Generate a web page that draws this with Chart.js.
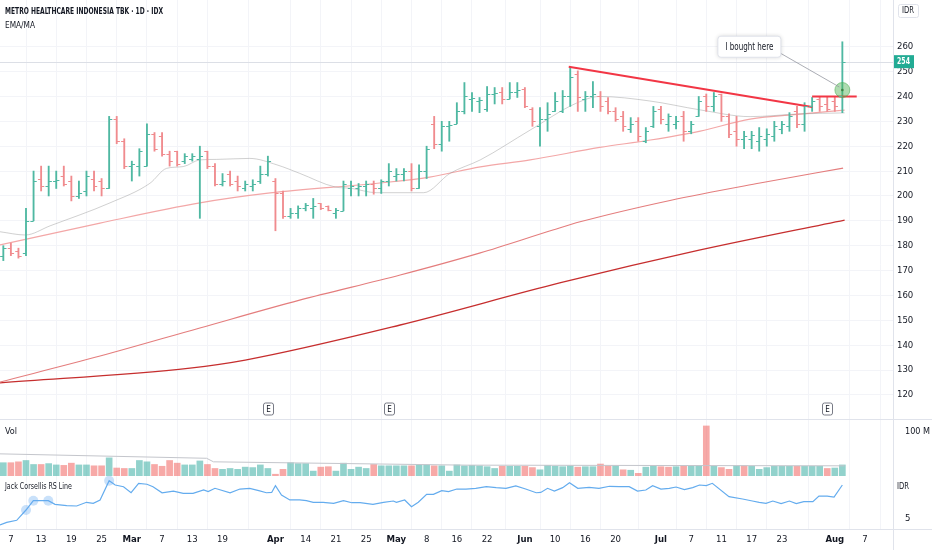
<!DOCTYPE html>
<html>
<head>
<meta charset="utf-8">
<script src="https://cdn.jsdelivr.net/npm/chart.js@4.4.1/dist/chart.umd.min.js"></script>
<style>
  html, body { margin: 0; padding: 0; background: #fff; }
  #wrap { width: 932px; height: 550px; }
</style>
</head>
<body>
<div id="wrap"><canvas id="chart" width="932" height="550"></canvas></div>
<script>
// 标题
const titleText = 'METRO HEALTHCARE INDONESIA TBK · 1D · IDX';
const subTitle = 'EMA/MA';
const rsName = 'Jack Corsellis RS Line';

// 日线 OHLC (每根K线一个值)
const openP  = [176,179,178,177,190,207,204,206,208,206,200,202,207,206,203,231,222,212,212,212,
                225,224,217,218,214,215,215,218,212,205,209,206,203,204,206,209,206,201,192,193,
                195,195,197,196,193,194,203,203,204,205,203,206,208,209,210,203,210,229,221,228,
                229,234,239,238,235,241,242,239,242,243,235,228,231,234,234,240,249,239,240,240,
                238,234,232,227,230,222,228,235,229,229,232,226,232,240,236,241,232,226,223,223,
                222,223,224,227,228,234,229,236,239,237,238,240];
const highP  = [180,181,179,195,210,212,212,210,212,208,206,210,210,207,232,232,223,214,219,229,
                225.5,225.5,218,218,217,217,220,218,213,209,210,208,206,206.5,212,216,207,202,195,196,
                197,199,197,196,195,206,206,205,206,206,206.5,213,211,211,213,212.5,220,232,230,230,
                237.5,245.6,241.6,239.6,244,243.6,243.6,245.6,245.6,243.6,235.5,235.5,237.5,241.6,242.4,252,250.3,242,246,242,
                239.6,235.5,234,231.5,231.5,227.5,236,236,233,232,234,230,240,241,241.6,241,233,232,226,226,
                227.5,227,230,230,233.5,236,237.5,239.6,240,240,240,262];
const lowP   = [174,176,175,176,190,202,200,203,204,198,199,200,202,200,203,221,211,206,208,212,
                218,216,212,212,213,214,191,211,204,204,204,202,202,202,205,208,186,191,191,191,
                194,191,194.5,194,191,194,200,200,200,200.7,201,204,206,206,202,203,207,219,218,222,
                229,233,234,233.5,234,237,237,239,239.6,235.5,228,220,226,234,233.5,236,234,234,235.5,234,
                233,230,226,225.5,222,221.4,227.5,229,226,227,222,225,232,234,234,230,223.4,220,219,219,
                218,220,222,225,226,227.5,226,234,234,234,234,233.5];
const closeP = [179,177,176,190,206,204,206,206.5,205,200,201,208,204,203,231,222,212,213,218,225,
                219,217,214,213,216,216,216,212,205,206,205,204,205,205,209,214,201,192,193,195,
                196.5,196,195,194.5,194.5,205,204,204,205,203,206,210,209,210,203,210,219,221,228,228.5,
                234,240,239.5,238.5,241,241.5,239,242,242.5,236,230,231,233,238,240,248,239.6,240,241,236,
                234,231,228,229,224,226,234,231,232,230,226,229,238,236,240,232,225,223,224,224.5,
                224,225,228,229,232,229,236,238,236,235,236,254];

// 成交量 (百万股) 与涨跌色 (1 = 绿, 0 = 红)
const volume = [30,30,32,35,26,26,28,25,24,29,25,25,23,23,41,18,17,17,35,32,
                26,22,35,29,25,25,34,26,17,15,17,15,20,19,25,17,4,15,30,28,
                28,11,20,21,11,29,15,20,17,26,23,23,23,23,23,25,25,23,23,11,
                25,23,24,23,21,17,22,22,22,22,19,14,24,22,21,23,20,21,21,27,
                23,23,14,13,6,20,23,21,20,21,23,23,23,113,22,19,15,23,23,22,
                15,19,22,22,22,22,22,22,22,17,18,25];
const volUp  = [1,0,0,1,1,0,1,1,0,0,1,1,0,0,1,0,0,1,1,1,
                0,0,0,0,1,1,1,0,0,1,1,1,1,1,1,1,0,0,1,1,
                1,1,0,0,1,1,1,1,1,0,1,1,1,1,0,1,1,0,1,1,
                1,1,1,1,1,1,0,1,1,0,0,1,1,1,1,1,0,1,1,0,
                0,1,0,1,0,1,1,0,0,1,0,1,1,0,1,0,0,1,0,1,
                1,1,1,1,1,0,1,1,1,0,1,1];
const volMaX = [-0.44, 26.9, 27.8, 61.2, 93, 111.3];
const volMaY = [50, 40, 32, 24.5, 23.5, 23];

// 均线 (K线序号, 价格)
const emaX  = [-0.44,2.9,6.2,14.1,19.4,21.6,23.8,26.0,28.2,32.6,36.2,39.2,43.9,45.9,49.4,55.6,59.1,63.1,69.7,75.8,78.9,85.5,92.2,98.8,105.4,111.3];
const emaY  = [185.6,184.3,188.0,197.2,205.1,211.1,211.8,214.5,214.7,215.1,212.5,209.1,203.6,203.1,201.3,201.3,209.1,214.5,226.5,237.3,240.0,238.2,234.6,231.9,233.0,233.4];
const ma50X = [-0.44,12.8,26.0,35.3,49.8,56.4,63.1,69.7,78.9,85.6,92.2,98.8,105.4,111.3];
const ma50Y = [180.3,189.1,197.2,201.2,205.2,207.6,211.7,214.5,219.5,222.5,226.1,230.9,232.9,234.5];
const ma150X = [-0.44,12.8,26.0,39.2,52.5,63.1,72.7,76.3,88.2,100.1,111.1];
const ma150Y = [125.2,135.6,146.9,158.1,168.2,177.1,186.3,189.6,198.2,205.2,211.2];
const ma200X = [-0.44,24.7,32.0,52.5,73.6,92.2,111.3];
const ma200Y = [124.8,130.8,134.0,148.1,165.0,178.3,190.3];

// 趋势线与突破位
const trendX = [74.8, 107.0];
const trendY = [252, 235.8];
const levelX = [107.0, 112.9];
const levelY = [240, 240];

// RS 线
const rsX = [-0.44,0.45,1.77,3.0,3.97,5.95,6.84,8.39,9.7,11.0,11.9,12.8,14.0,14.8,15.9,16.9,17.9,19.0,19.8,21.0,
             22.5,23.8,25.1,26.5,27.1,28.0,30.0,31.3,32.6,33.8,34.8,35.5,36.0,36.8,37.9,39.2,40.1,41.0,42.3,43.7,
             45.0,46.1,47.2,48.9,50.3,51.6,52.0,53.1,54.0,54.9,56.0,56.9,58.0,58.9,60.0,61.2,62.5,63.9,65.2,66.5,
             67.8,69.1,70.5,71.1,72.0,72.9,74.0,74.9,76.0,77.5,78.8,80.2,81.5,82.8,83.9,85.0,85.9,87.0,88.1,89.0,
             90.1,91.2,92.1,93.0,93.8,96.0,97.8,99.1,100.0,100.9,101.8,102.9,104.0,104.9,105.9,107.1,107.9,109.0,109.9,111.0];
const rsY = [4.38,4.63,4.82,5.79,6.67,6.67,6.33,6.2,6.17,6.52,6.42,6.74,8.56,8.15,7.99,7.42,8.31,8.22,7.99,7.42,
             7.58,7.37,7.37,7.68,7.53,7.84,7.42,7.77,7.84,7.62,7.42,7.45,8.09,7.2,6.74,6.74,6.67,6.52,6.52,6.42,
             6.67,6.48,6.48,6.33,6.52,6.64,6.52,6.74,6.1,6.52,7.27,7.27,7.62,7.53,7.77,7.77,7.84,7.99,7.9,7.84,
             8.06,7.77,7.42,7.45,7.84,7.58,7.9,8.37,7.84,7.93,7.84,8.03,7.99,7.99,7.58,7.68,8.09,7.77,7.84,7.96,
             7.71,7.9,8.15,8.09,8.31,7.05,6.83,6.64,6.52,6.42,6.64,6.39,6.64,6.39,6.58,6.58,7.11,7.11,7.02,8.15];
const rsHighX = [3.0, 3.97, 5.95, 14.0];
const rsHighY = [5.79, 6.67, 6.67, 8.56];

// 坐标轴刻度
const tickIdx  = [1,5,9,13,17,21,25,29,36,40,44,48,52,56,60,64,69,73,77,81,87,91,95,99,103,110,114];
const tickText = ['7','13','19','25','Mar','7','13','19','Apr','14','21','25','May','8','16','22','Jun','10','16','20','Jul','7','11','17','23','Aug','7'];
const priceTicks = [120,130,140,150,160,170,180,190,200,210,220,230,240,250,260];
const months = ['Mar','Apr','May','Jun','Jul','Aug'];

// 注释
const earnIdx = [35, 51, 109];
const boughtX = 111, boughtY = 242.6;
const noteText = 'I bought here', noteX = 98.7, noteY = 260;

const FONT = "'Liberation Sans Narrow', 'DejaVu Sans Condensed', Roboto, 'Liberation Sans', sans-serif";
const UP = '#4fb8a2', DOWN = '#f08b8e';
const TXT = '#131722', LINE = '#e0e3eb', GRID = '#f3f4f8';

Chart.defaults.font.family = FONT;
Chart.defaults.color = TXT;

const idx = closeP.map((_, i) => i);
const pts = (xs, ys) => xs.map((x, i) => ({ x: x, y: ys[i] }));

// 去掉 Chart.js 为刻度标签预留的边距
function noPad(s) {
    s.paddingTop = 0; s.paddingBottom = 0; s.paddingLeft = 0; s.paddingRight = 0;
}

// 窄字体效果：按目标宽度横向压缩
function fitText(ctx, text, x, y, maxW) {
    const w = ctx.measureText(text).width;
    const k = Math.min(1, maxW / w);
    ctx.save();
    ctx.translate(x, y);
    ctx.scale(k, 1);
    ctx.fillText(text, 0, 0);
    ctx.restore();
}

// 画开盘/收盘短横
const ohlcTicks = {
    id: 'ohlcTicks',
    afterDatasetsDraw(chart) {
        const { ctx, scales: { x, y } } = chart;
        const w = (x.getPixelForValue(1) - x.getPixelForValue(0)) * 0.42;
        ctx.save();
        ctx.lineWidth = 1.2;
        idx.forEach(i => {
            const px = x.getPixelForValue(i);
            ctx.strokeStyle = closeP[i] >= openP[i] ? UP : DOWN;
            const yo = Math.round(y.getPixelForValue(openP[i])) + 0.5;
            const yc = Math.round(y.getPixelForValue(closeP[i])) + 0.5;
            ctx.beginPath();
            ctx.moveTo(px - w, yo); ctx.lineTo(px, yo);
            ctx.moveTo(px, yc); ctx.lineTo(px + w, yc);
            ctx.stroke();
        });
        ctx.restore();
    }
};

function roundRect(ctx, x, y, w, h, r) {
    ctx.beginPath();
    ctx.moveTo(x + r, y);
    ctx.arcTo(x + w, y, x + w, y + h, r);
    ctx.arcTo(x + w, y + h, x, y + h, r);
    ctx.arcTo(x, y + h, x, y, r);
    ctx.arcTo(x, y, x + w, y, r);
    ctx.closePath();
}

// 背景、标签、分隔线、标注
const decor = {
    id: 'decor',
    beforeDraw(chart) {
        const { ctx, width, height } = chart;
        ctx.save();
        ctx.fillStyle = '#fff';
        ctx.fillRect(0, 0, width, height);
        ctx.restore();
    },
    beforeDatasetsDraw(chart) {
        const { ctx, chartArea, scales: { y } } = chart;
        const py = Math.round(y.getPixelForValue(closeP[closeP.length - 1])) + 0.5;
        ctx.save();
        ctx.strokeStyle = '#dcdfe6';
        ctx.lineWidth = 1;
        ctx.beginPath();
        ctx.moveTo(chartArea.left, py);
        ctx.lineTo(chartArea.right, py);
        ctx.stroke();
        ctx.restore();
    },
    afterDraw(chart) {
        const { ctx, chartArea, scales: { x, y, yVol, yRS } } = chart;
        ctx.save();

        // 分隔线
        ctx.strokeStyle = LINE;
        ctx.lineWidth = 1;
        ctx.beginPath();
        [y.bottom, chartArea.bottom].forEach(v => {
            const p = Math.round(v) + 0.5;
            ctx.moveTo(0, p); ctx.lineTo(chart.width, p);
        });
        ctx.moveTo(chartArea.right + 0.5, 0); ctx.lineTo(chartArea.right + 0.5, chart.height);
        ctx.stroke();

        // 左上标题
        ctx.fillStyle = TXT;
        ctx.textAlign = 'left';
        ctx.textBaseline = 'middle';
        ctx.font = `bold 9px ${FONT}`;
        fitText(ctx, titleText, 5, 12, 158);
        ctx.font = `9px ${FONT}`;
        fitText(ctx, subTitle, 5, 26, 30);
        fitText(ctx, 'Vol', 5, yVol.top + 13, 14);
        fitText(ctx, rsName, 5, yRS.top + 11, 67);

        // 右侧 IDR 标签
        ctx.fillStyle = '#fff';
        ctx.fillRect(chartArea.right + 2, 2, 36, 18);
        ctx.strokeStyle = LINE;
        roundRect(ctx, chartArea.right + 5.5, 4.5, 20, 13, 2);
        ctx.stroke();
        ctx.fillStyle = TXT;
        fitText(ctx, 'IDR', chartArea.right + 9, 11, 12);
        fitText(ctx, 'IDR', chartArea.right + 4, yRS.top + 11, 12);

        // 最新价格标签
        const last = closeP[closeP.length - 1];
        const ly = y.getPixelForValue(last);
        ctx.fillStyle = '#22ab94';
        ctx.fillRect(chartArea.right + 1, ly - 6.5, 20, 13);
        ctx.fillStyle = '#fff';
        ctx.font = `bold 9px ${FONT}`;
        fitText(ctx, String(last), chartArea.right + 4, ly, 13);

        // 财报 E 标记
        ctx.font = `8px ${FONT}`;
        ctx.textAlign = 'center';
        earnIdx.forEach(i => {
            const ex = Math.round(x.getPixelForValue(i)) + 0.5;
            const ey = y.bottom - 10;
            ctx.fillStyle = '#fff';
            ctx.strokeStyle = '#787b86';
            roundRect(ctx, ex - 5, ey - 6, 10, 12, 2);
            ctx.fill(); ctx.stroke();
            ctx.fillStyle = TXT;
            ctx.fillText('E', ex, ey + 0.5);
        });

        // 买入注释
        const bx = x.getPixelForValue(noteX), by = y.getPixelForValue(noteY);
        const cx = x.getPixelForValue(boughtX), cy = y.getPixelForValue(boughtY);
        ctx.font = `10px ${FONT}`;
        const w = 63, h = 21;
        ctx.strokeStyle = '#9598a1';
        ctx.lineWidth = 0.8;
        ctx.beginPath();
        ctx.moveTo(bx + w / 2 - 3, by + 5);
        ctx.lineTo(cx - 3, cy - 3);
        ctx.stroke();
        ctx.shadowColor = 'rgba(0,0,0,0.18)';
        ctx.shadowBlur = 4;
        ctx.fillStyle = '#fff';
        roundRect(ctx, bx - w / 2, by - h / 2, w, h, 3);
        ctx.fill();
        ctx.shadowBlur = 0;
        ctx.strokeStyle = LINE;
        ctx.lineWidth = 1;
        ctx.stroke();
        ctx.fillStyle = TXT;
        ctx.textAlign = 'left';
        fitText(ctx, noteText, bx - 24, by + 0.5, 48);

        ctx.restore();
    }
};

const chart = new Chart(document.getElementById('chart'), {
    type: 'bar',
    data: {
        datasets: [
            {
                type: 'line', label: 'bought', yAxisID: 'y',
                data: [{ x: boughtX, y: boughtY }],
                showLine: false, pointRadius: 7.5,
                pointBackgroundColor: 'rgba(76,175,80,0.45)', pointBorderColor: 'rgba(76,175,80,0.55)', pointBorderWidth: 1
            },
            {
                type: 'line', label: 'boughtDot', yAxisID: 'y',
                data: [{ x: boughtX, y: boughtY }],
                showLine: false, pointRadius: 1.3,
                pointBackgroundColor: '#2e5e3a', pointBorderWidth: 0
            },
            {
                type: 'line', label: 'trend', yAxisID: 'y', data: pts(trendX, trendY),
                borderColor: '#f23645', borderWidth: 2, pointRadius: 0
            },
            {
                type: 'line', label: 'level', yAxisID: 'y', data: pts(levelX, levelY),
                borderColor: '#f23645', borderWidth: 2, pointRadius: 0
            },
            {
                type: 'bar', label: 'range', yAxisID: 'y', grouped: false,
                data: idx.map(i => ({ x: i, y: [lowP[i], highP[i]] })),
                backgroundColor: idx.map(i => closeP[i] >= openP[i] ? UP : DOWN),
                barThickness: 1.2
            },
            {
                type: 'line', label: 'EMA', yAxisID: 'y', data: pts(emaX, emaY),
                borderColor: 'rgba(150,150,150,0.45)', borderWidth: 1, pointRadius: 0, cubicInterpolationMode: 'monotone'
            },
            {
                type: 'line', label: 'MA50', yAxisID: 'y', data: pts(ma50X, ma50Y),
                borderColor: '#f3a7a7', borderWidth: 1.2, pointRadius: 0, cubicInterpolationMode: 'monotone'
            },
            {
                type: 'line', label: 'MA150', yAxisID: 'y', data: pts(ma150X, ma150Y),
                borderColor: '#e47d7d', borderWidth: 1.1, pointRadius: 0, cubicInterpolationMode: 'monotone'
            },
            {
                type: 'line', label: 'MA200', yAxisID: 'y', data: pts(ma200X, ma200Y),
                borderColor: '#c62e2e', borderWidth: 1.3, pointRadius: 0, cubicInterpolationMode: 'monotone'
            },
            {
                type: 'line', label: 'VolMA', yAxisID: 'yVol', data: pts(volMaX, volMaY),
                borderColor: '#c4c6cc', borderWidth: 1, pointRadius: 0
            },
            {
                type: 'bar', label: 'Vol', yAxisID: 'yVol', grouped: false,
                data: idx.map(i => ({ x: i, y: volume[i] })),
                backgroundColor: volUp.map(u => u ? 'rgba(38,166,154,0.5)' : 'rgba(239,83,80,0.5)'),
                barThickness: 6
            },
            {
                type: 'line', label: 'RSHigh', yAxisID: 'yRS', data: pts(rsHighX, rsHighY),
                showLine: false, pointRadius: 5, pointBackgroundColor: 'rgba(100,170,240,0.35)', pointBorderWidth: 0
            },
            {
                type: 'line', label: 'RS', yAxisID: 'yRS', data: pts(rsX, rsY),
                borderColor: '#64acee', borderWidth: 1.2, pointRadius: 0
            }
        ]
    },
    options: {
        responsive: false,
        animation: false,
        devicePixelRatio: 1,
        layout: { padding: 0, autoPadding: false },
        plugins: { legend: { display: false }, tooltip: { enabled: false } },
        scales: {
            x: {
                type: 'linear', min: -0.44, max: 117.7, offset: false,
                grid: { color: GRID, drawTicks: false },
                border: { display: false },
                afterBuildTicks: s => { s.ticks = tickIdx.map(v => ({ value: v })); },
                afterFit: s => { s.height = 21; noPad(s); },
                ticks: {
                    autoSkip: false, maxRotation: 0, padding: 5, color: TXT,
                    font: c => ({ size: 9.5, weight: months.includes(tickText[c.index]) ? 'bold' : 'normal' }),
                    callback: (v, i) => tickText[i]
                }
            },
            y: {
                type: 'linear', position: 'right', stack: 'pane', stackWeight: 419,
                min: 110.3, max: 278.8,
                grid: { color: GRID, drawTicks: false },
                border: { color: LINE },
                afterBuildTicks: s => { s.ticks = priceTicks.map(v => ({ value: v })); },
                afterFit: s => { s.width = 39; noPad(s); },
                ticks: { padding: 4, color: TXT, font: { size: 9.5 } }
            },
            yVol: {
                type: 'linear', position: 'right', stack: 'pane', stackWeight: 57,
                min: 0, max: 128.7,
                grid: { display: false },
                border: { color: LINE },
                afterBuildTicks: s => { s.ticks = [{ value: 100 }]; },
                afterFit: s => { s.width = 39; noPad(s); },
                ticks: { padding: 4, color: TXT, font: { size: 9 }, callback: v => v + ' M' }
            },
            yRS: {
                type: 'linear', position: 'right', stack: 'pane', stackWeight: 53,
                min: 4, max: 9,
                grid: { display: false },
                border: { color: LINE },
                afterBuildTicks: s => { s.ticks = [{ value: 5 }]; },
                afterFit: s => { s.width = 39; noPad(s); },
                ticks: { padding: 4, color: TXT, font: { size: 9.5 } }
            }
        }
    },
    plugins: [decor, ohlcTicks]
});
</script>
</body>
</html>
